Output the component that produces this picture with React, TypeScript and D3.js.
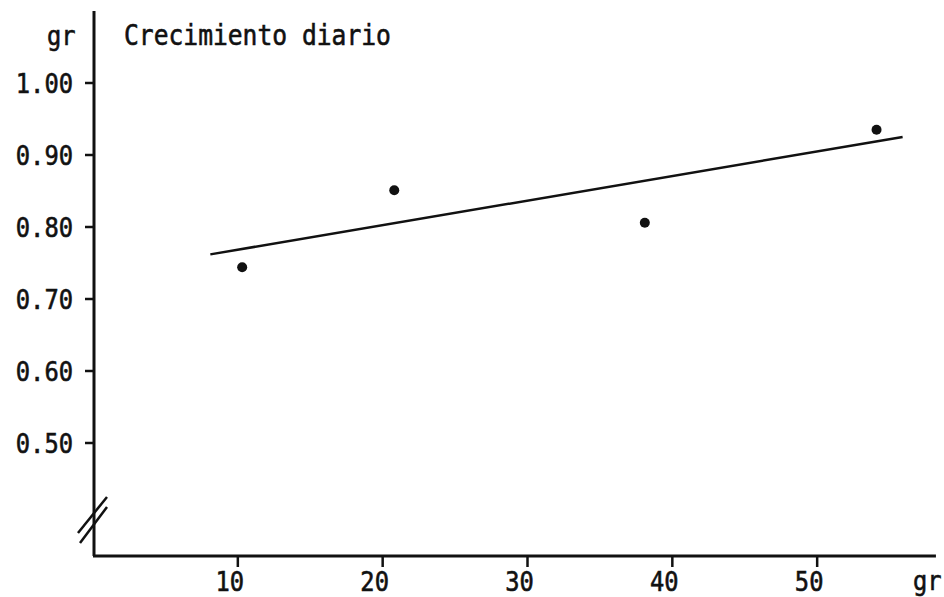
import * as d3 from 'd3';

// Crecimiento diario (gr) vs peso (gr)
const pointX = [10.3, 20.8, 38.1, 54.1];
const pointY = [0.744, 0.851, 0.806, 0.935];

const fitX = [8.1, 55.9];
const fitY = [0.762, 0.925];

const xTicks = [10, 20, 30, 40, 50];
const yTicks = [1.0, 0.9, 0.8, 0.7, 0.6, 0.5];

const width = 944;
const height = 597;

const x = d3.scaleLinear().domain([0, 60]).range([93, 962]);
const y = d3.scaleLinear().domain([0.5, 1.0]).range([443, 83]);

const font = '"DejaVu Sans Mono", "Liberation Mono", monospace';
const ink = '#111';

const Label = ({ px, py, anchor = 'start', size = 27, children }) => (
  <text
    transform={`translate(${px}, ${py}) scale(0.88, 1)`}
    textAnchor={anchor}
    fontFamily={font}
    fontSize={size}
    fill={ink}
    stroke={ink}
    strokeWidth={0.6}
  >
    {children}
  </text>
);

export default function App() {
  const axisY = 556;
  const axisX = x(0) + 1;
  const xEnd = x(58.2);
  const yTop = y(1.1);

  const fit = d3
    .line<number>()
    .x((d) => x(d))
    .y((d, i) => y(fitY[i]));

  return (
    <svg
      width={width}
      height={height}
      style={{ position: 'absolute', left: 0, top: 0, background: '#fff' }}
    >
      {/* axes */}
      <line x1={axisX} y1={yTop} x2={axisX} y2={axisY} stroke={ink} strokeWidth={3} />
      <line x1={axisX - 1} y1={axisY} x2={xEnd} y2={axisY} stroke={ink} strokeWidth={3} />

      {/* axis break */}
      <line x1={78} y1={533} x2={107} y2={497} stroke={ink} strokeWidth={2.5} />
      <line x1={80} y1={543} x2={107} y2={507} stroke={ink} strokeWidth={2.5} />

      {yTicks.map((t) => (
        <g key={t}>
          <line x1={axisX - 9} x2={axisX} y1={y(t)} y2={y(t)} stroke={ink} strokeWidth={2.5} />
          <Label px={73} py={y(t) + 10} anchor="end">
            {t.toFixed(2)}
          </Label>
        </g>
      ))}

      {xTicks.map((t) => (
        <g key={t}>
          <line x1={x(t)} x2={x(t)} y1={axisY} y2={axisY + 11} stroke={ink} strokeWidth={2.5} />
          <Label px={x(t) - 8} py={591} anchor="middle">
            {t}
          </Label>
        </g>
      ))}

      <Label px={47} py={45}>gr</Label>
      <Label px={913} py={590}>gr</Label>
      <Label px={124} py={45} size={28}>
        Crecimiento diario
      </Label>

      {/* fitted line */}
      <path d={fit(fitX) ?? ''} fill="none" stroke={ink} strokeWidth={2.5} />

      {pointX.map((v, i) => (
        <circle key={i} cx={x(v)} cy={y(pointY[i])} r={5} fill={ink} />
      ))}
    </svg>
  );
}
